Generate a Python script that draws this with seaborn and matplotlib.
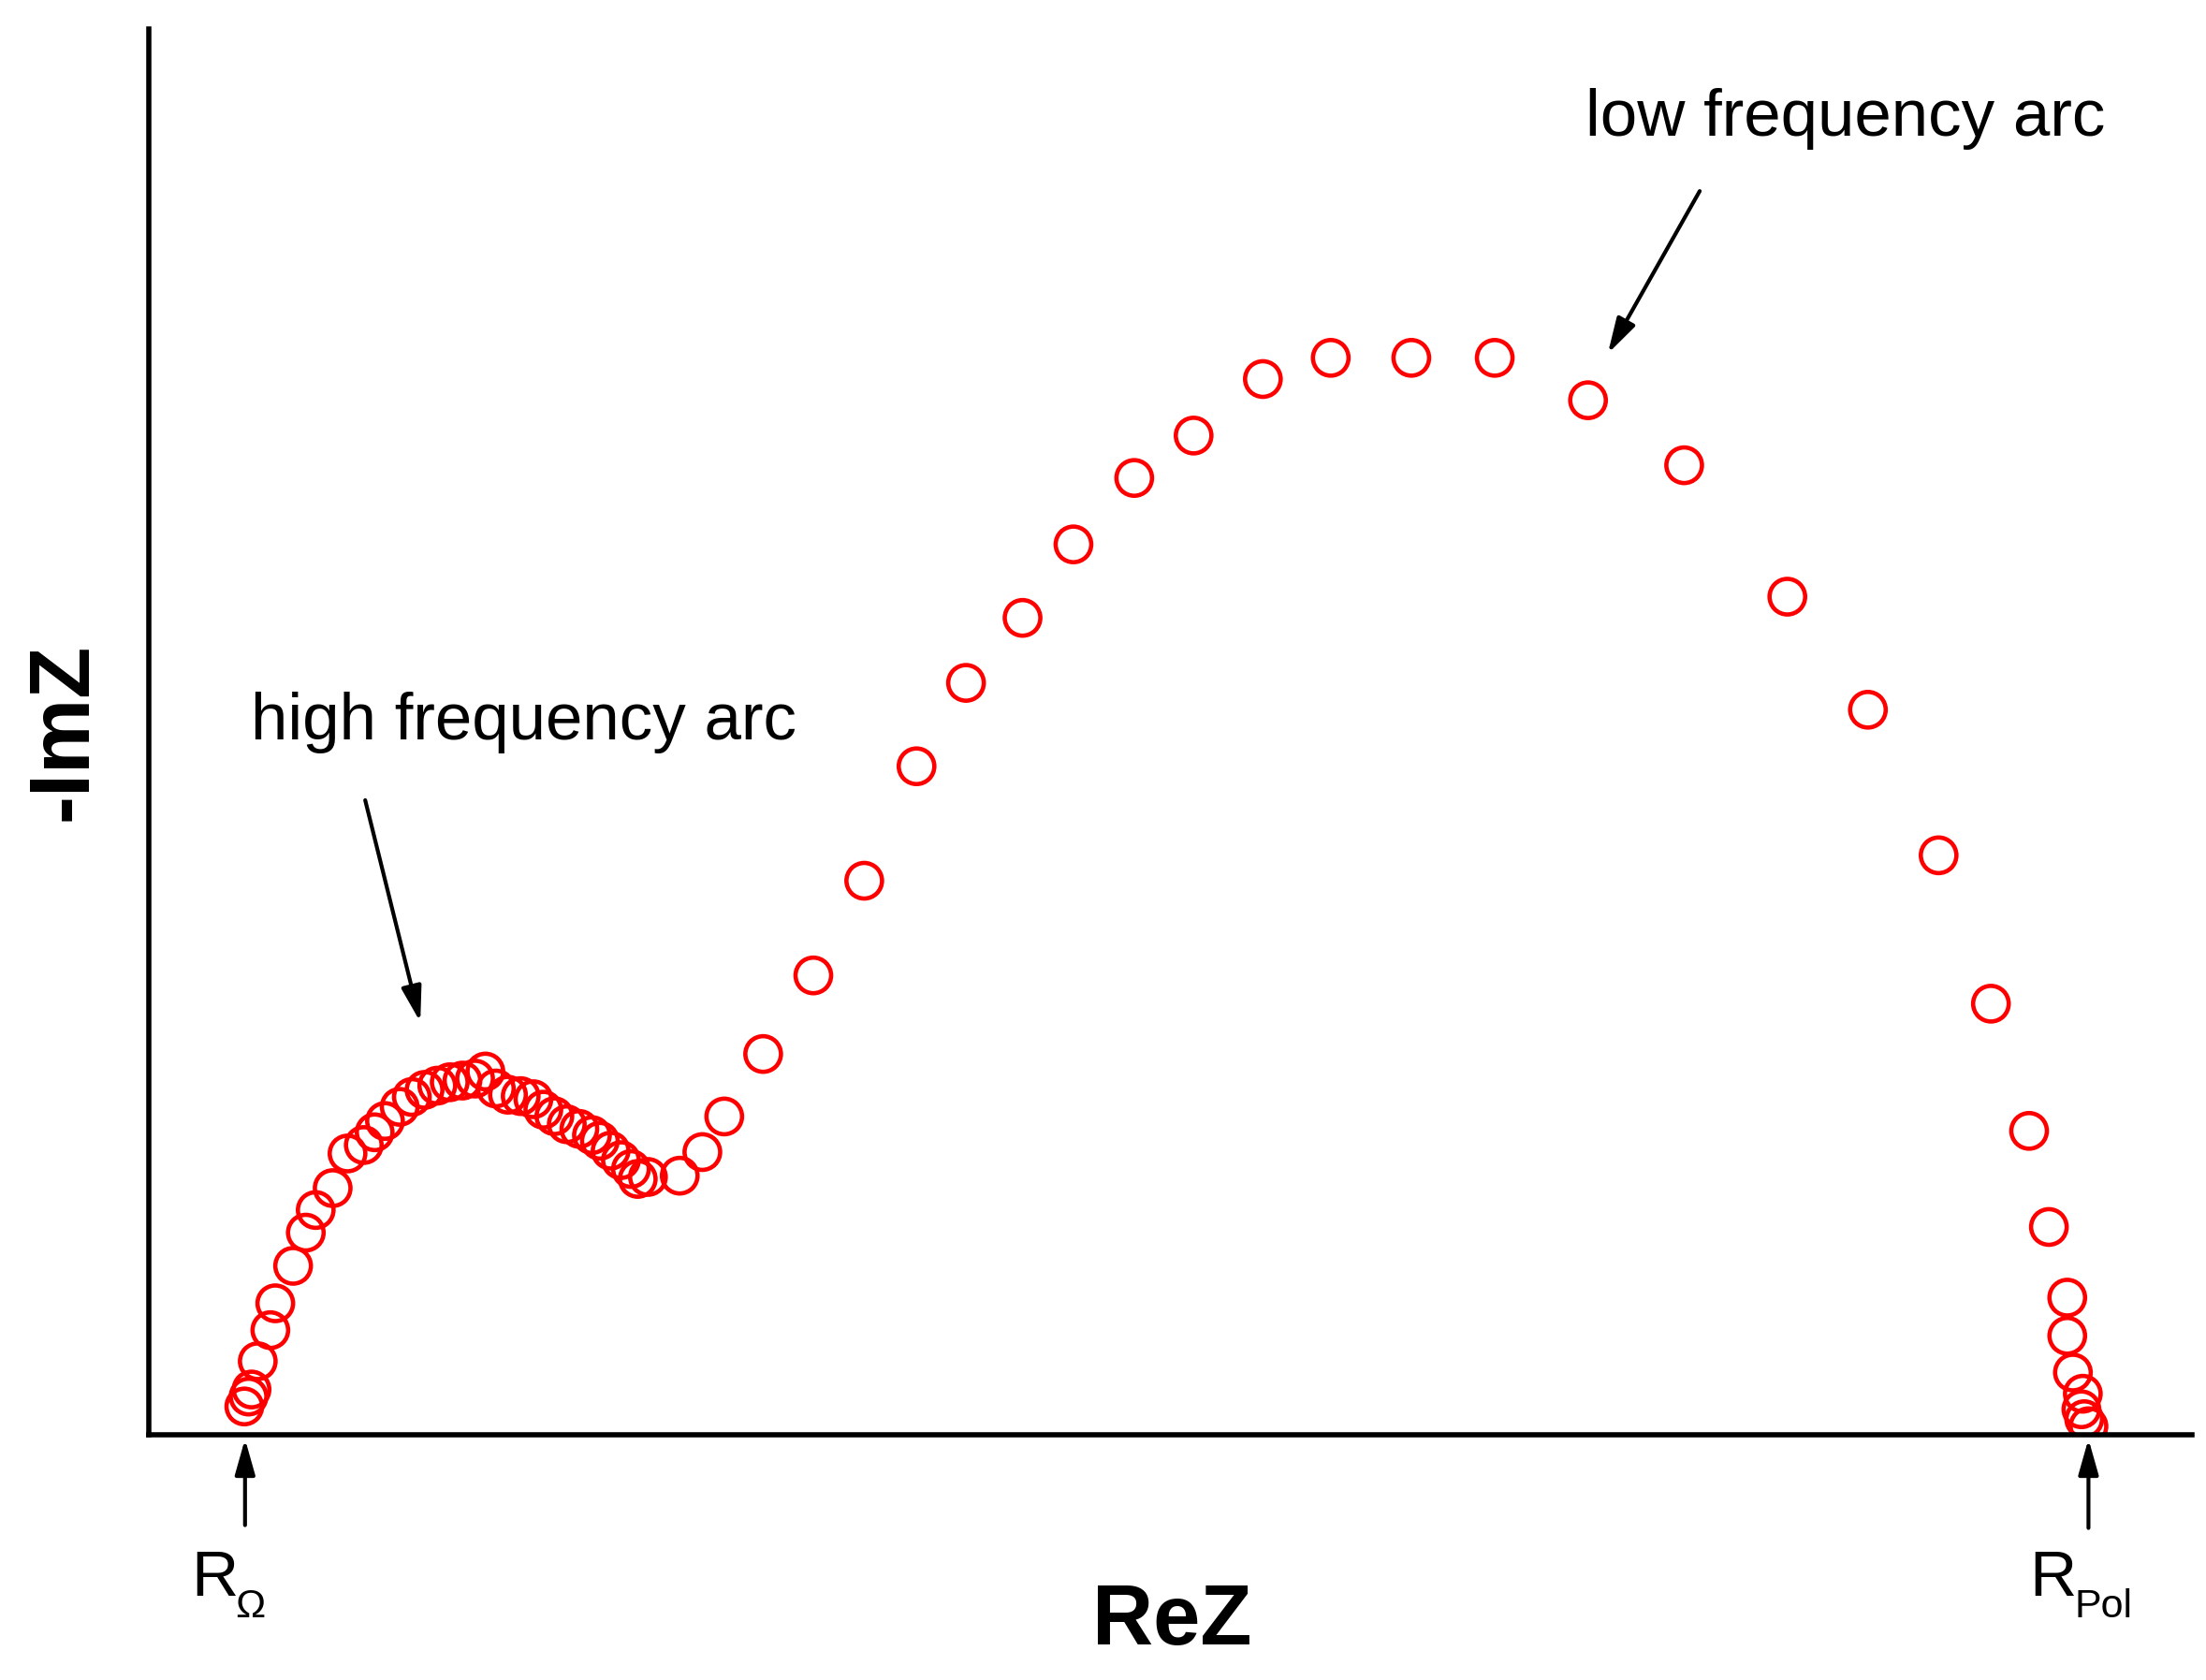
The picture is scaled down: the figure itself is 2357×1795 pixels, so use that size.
import matplotlib
matplotlib.use("Agg")
import matplotlib.pyplot as plt
import seaborn as sns
import pandas as pd

# Nyquist plot data (arbitrary units)
re_z = [6.75, 7.05, 7.26, 7.7, 8.59, 8.94, 10.2, 11.1, 11.8, 13.0, 14.05, 15.2,
        15.97, 16.7, 17.74, 18.6, 19.5, 20.4, 21.28, 22.18, 23.07, 23.8, 24.54,
        25.4, 26.3, 27.2, 27.9, 28.68, 29.56, 30.45, 31.34, 31.9, 32.66, 33.39,
        34.1, 34.58, 35.3, 37.55, 39.15, 40.7, 43.45,
        47.0, 50.6, 54.3, 57.8, 61.8, 65.4, 69.7, 73.9, 78.8, 83.6, 89.3, 95.2,
        101.8, 108.6, 115.9, 121.6, 126.6, 130.3, 133.0, 134.4, 135.7, 135.7,
        136.1, 136.8, 136.7, 136.9, 137.2]
im_z = [2.0, 2.7, 3.2, 5.2, 7.4, 9.3, 11.95, 14.3, 15.9, 17.45, 19.9, 20.5,
        21.4, 22.2, 23.2, 23.9, 24.4, 24.7, 24.94, 25.06, 25.2, 25.7, 24.5,
        24.06, 23.96, 23.74, 23.0, 22.54, 21.97, 21.64, 21.2, 20.8, 20.1, 19.43,
        18.8, 18.1, 18.24, 18.33, 20.0, 22.52, 26.94,
        32.5, 39.2, 47.3, 53.2, 57.8, 63.0, 67.7, 70.7, 74.7, 76.2, 76.2, 76.2,
        73.2, 68.6, 59.3, 51.3, 41.0, 30.5, 21.5, 14.7, 9.7, 7.0,
        4.4, 2.9, 1.8, 1.1, 0.6]

df = pd.DataFrame({"ReZ": re_z, "-ImZ": im_z})

sns.set_style("white")
plt.rcParams["font.family"] = ["Liberation Sans", "DejaVu Sans"]
plt.rcParams["text.color"] = "black"
plt.rcParams["axes.labelcolor"] = "black"

fig = plt.figure(figsize=(23.57, 17.95), dpi=100)
ax = fig.add_axes([0.0675, 0.146, 0.926, 0.837])

sns.scatterplot(data=df, x="ReZ", y="-ImZ", ax=ax, s=750, marker="o",
                facecolors="none", edgecolor="red", linewidth=3.3)

ax.set_xlim(0, 144.5)
ax.set_ylim(0, 99.5)
ax.set_xticks([])
ax.set_yticks([])
for side in ["top", "right"]:
    ax.spines[side].set_visible(False)
for side in ["left", "bottom"]:
    ax.spines[side].set_linewidth(4)
    ax.spines[side].set_color("black")

ax.set_xlabel("ReZ", fontsize=65, fontweight="bold")
ax.set_ylabel("-ImZ", fontsize=65, fontweight="bold")
ax.xaxis.set_label_coords(0.501, -0.105)
ax.yaxis.set_label_coords(-0.022, 0.5)

# annotations
ax.text(101.6, 93.1, "low frequency arc", fontsize=51, ha="left", va="center")
ax.text(7.2, 50.4, "high frequency arc", fontsize=51, ha="left", va="center")

arrow = dict(arrowstyle="-|>,head_length=2.3,head_width=0.65", color="black",
             lw=3, shrinkA=0, shrinkB=0)
ax.annotate("", xy=(19.2, 29.2), xytext=(15.3, 44.9), arrowprops=arrow)
ax.annotate("", xy=(103.2, 76.5), xytext=(109.7, 88.0), arrowprops=arrow)
ax.annotate("", xy=(6.8, -0.3), xytext=(6.8, -6.4), arrowprops=arrow,
            annotation_clip=False)
ax.annotate("", xy=(137.2, -0.3), xytext=(137.2, -6.6), arrowprops=arrow,
            annotation_clip=False)

# R_Ohm and R_Pol labels: main letter plus smaller subscript
ax.text(3.0, -11.4, "R", fontsize=50, ha="left", va="baseline")
ax.text(6.1, -12.9, "Ω", fontsize=31, ha="left", va="baseline")
ax.text(133.0, -11.4, "R", fontsize=50, ha="left", va="baseline")
ax.text(136.2, -12.9, "Pol", fontsize=31, ha="left", va="baseline")

fig.savefig("out.png", dpi=100, facecolor="white")
